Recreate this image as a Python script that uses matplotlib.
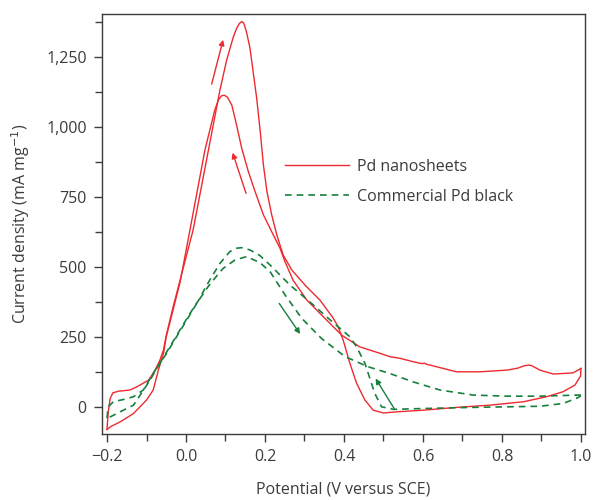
import matplotlib.pyplot as plt
from matplotlib.ticker import MultipleLocator, FuncFormatter

# Pd nanosheets, forward scan (tall peak)
red_fwd_x = [-0.2, -0.197, -0.192, -0.185, -0.17, -0.155, -0.142, -0.125, -0.095, -0.078, -0.066,
             -0.057, -0.05, -0.032, -0.015, 0.018, 0.052, 0.086, 0.103, 0.12, 0.128, 0.135,
             0.141, 0.146, 0.153, 0.162, 0.17, 0.179, 0.188, 0.196, 0.205, 0.217, 0.23, 0.246,
             0.268, 0.301, 0.339, 0.373, 0.385, 0.398, 0.415, 0.432, 0.453, 0.474, 0.5, 0.533,
             0.601, 0.685, 0.77, 0.854, 0.913, 0.955, 0.985, 0.999, 1.0]
red_fwd_y = [-81, -20, 30, 50, 56, 58, 60, 71, 95, 131, 167,
             203, 255, 360, 452, 631, 881, 1131, 1238, 1321, 1350, 1368,
             1375, 1370, 1339, 1280, 1196, 1101, 982, 863, 768, 685, 613, 542,
             488, 435, 381, 316, 286, 238, 155, 84, 24, -12, -22, -18,
             -12, -2, 6, 18, 36, 54, 78, 110, 137]

# Pd nanosheets, backward scan (lower peak)
red_bwd_x = [1.0, 0.98, 0.93, 0.896, 0.875, 0.867, 0.855, 0.84, 0.812, 0.744, 0.685, 0.609,
             0.603, 0.598, 0.585, 0.575, 0.567, 0.542, 0.516, 0.491, 0.44, 0.394, 0.348, 0.306,
             0.271, 0.25, 0.238, 0.217, 0.196, 0.175, 0.158, 0.141, 0.128, 0.116, 0.105, 0.097,
             0.09, 0.082, 0.073, 0.048, 0.01, -0.015, -0.032, -0.05, -0.057, -0.07, -0.083, -0.1,
             -0.133, -0.167, -0.19, -0.2]
red_bwd_y = [137, 121, 117, 131, 147, 149, 146, 138, 131, 125, 125, 152,
             156, 154, 158, 161, 164, 173, 179, 191, 214, 256, 321, 381,
             452, 520, 566, 625, 685, 768, 839, 923, 1006, 1077, 1105, 1112,
             1110, 1095, 1060, 917, 631, 445, 350, 250, 190, 131, 60, 24,
             -24, -54, -70, -81]

# Commercial Pd black, scan with higher peak
grn_a_x = [-0.2, -0.197, -0.184, -0.159, -0.133, -0.108, -0.085, -0.06, -0.03, 0.0, 0.02,
           0.035, 0.048, 0.065, 0.086, 0.111, 0.128, 0.141, 0.162, 0.187, 0.213, 0.263, 0.318,
           0.365, 0.415, 0.432, 0.453, 0.478, 0.495, 0.516, 0.525, 0.601, 0.727, 0.812,
           0.896, 0.955, 0.993, 1.0]
grn_a_y = [-40, 0, 18, 26, 36, 60, 115, 170, 240, 310, 355,
           387, 423, 464, 512, 554, 566, 568, 560, 540, 506, 435, 369,
           310, 250, 214, 155, 48, 0, -6, -9, -6, -2, 0,
           2, 12, 33, 40]

# Commercial Pd black, scan with lower peak
grn_b_x = [1.0, 0.993, 0.896, 0.812, 0.727, 0.643, 0.575, 0.516, 0.461, 0.403, 0.343,
           0.293, 0.251, 0.213, 0.187, 0.153, 0.124, 0.094, 0.073, 0.056, 0.027, 0.002,
           -0.024, -0.049, -0.074, -0.091, -0.116, -0.133, -0.167, -0.192, -0.2]
grn_b_y = [42, 42, 38, 38, 42, 60, 89, 119, 143, 179, 244,
           316, 399, 482, 515, 536, 524, 494, 459, 429, 369, 310,
           250, 191, 137, 95, 42, 6, -18, -36, -41]

red = '#ee2a2f'
green = '#17803d'
grey = '#3c3c3c'

plt.rcParams['font.family'] = ['Open Sans', 'DejaVu Sans']
plt.rcParams['font.size'] = 11

fig = plt.figure(figsize=(5.94, 5.0), dpi=100)
ax = fig.add_axes([0.1717, 0.132, 0.813, 0.84])

ax.plot(red_fwd_x, red_fwd_y, color=red, lw=1.0, label='Pd nanosheets')
ax.plot(red_bwd_x, red_bwd_y, color=red, lw=1.0)
ax.plot(grn_a_x, grn_a_y, color=green, lw=1.2, ls=(0, (4, 3)), label='Commercial Pd black')
ax.plot(grn_b_x, grn_b_y, color=green, lw=1.2, ls=(0, (4, 3)))

# scan direction arrows
arrow_red = dict(arrowstyle='-|>', color=red, lw=1.0, mutation_scale=8, shrinkA=0, shrinkB=0)
arrow_grn = dict(arrowstyle='-|>', color=green, lw=1.0, mutation_scale=8, shrinkA=0, shrinkB=0)
ax.annotate('', xy=(0.094, 1310), xytext=(0.065, 1152), arrowprops=arrow_red)
ax.annotate('', xy=(0.118, 907), xytext=(0.152, 762), arrowprops=arrow_red)
ax.annotate('', xy=(0.289, 260), xytext=(0.236, 369), arrowprops=arrow_grn)
ax.annotate('', xy=(0.48, 101), xytext=(0.527, -6), arrowprops=arrow_grn)

ax.set_xlim(-0.2127, 1.01)
ax.set_ylim(-97, 1402)
ax.xaxis.set_major_locator(MultipleLocator(0.2))
ax.xaxis.set_minor_locator(MultipleLocator(0.1))
ax.yaxis.set_major_locator(MultipleLocator(250))
ax.yaxis.set_minor_locator(MultipleLocator(125))
ax.xaxis.set_major_formatter(FuncFormatter(lambda v, p: f'{v:.1f}'.replace('-', '\u2212')))
ax.yaxis.set_major_formatter(FuncFormatter(lambda v, p: f'{int(round(v)):,}'))

for s in ax.spines.values():
    s.set_color(grey)
    s.set_linewidth(1.0)
ax.tick_params(which='both', direction='out', colors=grey, labelcolor=grey, labelsize=11.5)
ax.tick_params(which='major', length=6, width=1.0, pad=5)
ax.tick_params(which='minor', length=5, width=1.0)

ax.set_xlabel('Potential (V versus SCE)', color=grey, fontsize=11.5, labelpad=12)
ax.set_ylabel('Current density (mA mg$^{\u22121}$)', color=grey, fontsize=11.5, labelpad=10)

leg = ax.legend(loc='upper left', bbox_to_anchor=(0.35, 0.69), frameon=False,
                handlelength=4.0, handletextpad=0.5, labelspacing=0.9, fontsize=11.5)
for t in leg.get_texts():
    t.set_color(grey)

fig.savefig('out.png', dpi=100)
